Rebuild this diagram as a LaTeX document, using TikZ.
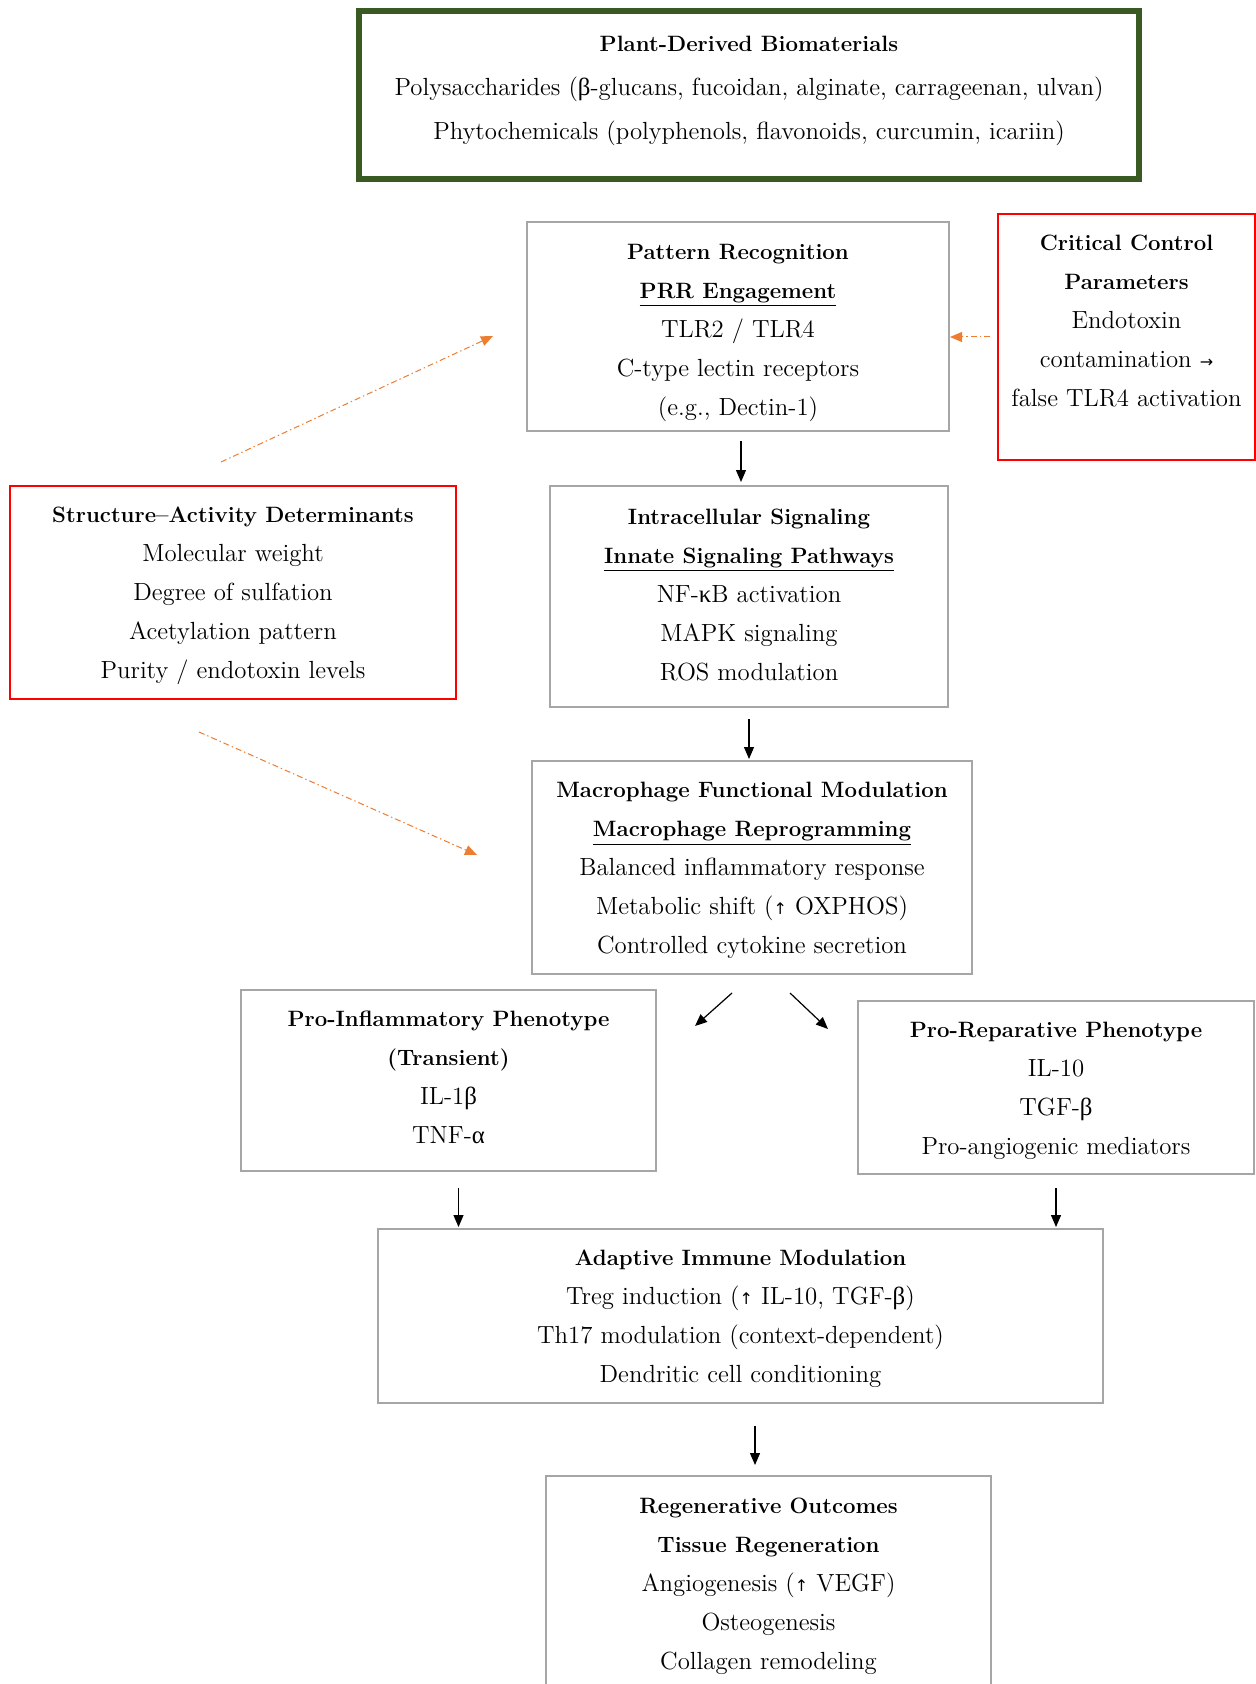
\documentclass[tikz,border=0pt]{standalone}
\usepackage{fontspec}
\newfontfamily\griego{Liberation Serif}
\newfontfamily\simbolo{DejaVu Sans}
\usetikzlibrary{positioning, arrows.meta, calc}
\definecolor{verde}{HTML}{3A5A24}
\definecolor{rojo}{HTML}{FF0000}
\definecolor{gris}{HTML}{A6A6A6}
\definecolor{naranja}{HTML}{ED7D31}
\newcommand{\gbeta}{{\griego β}}
\newcommand{\galfa}{{\griego α}}
\newcommand{\gkappa}{{\griego κ}}
\newcommand{\arriba}{{\simbolo\footnotesize ↑}}
\newcommand{\flechader}{{\simbolo\footnotesize →}}
\newcommand{\titulo}[1]{{\fontsize{11.1pt}{19.5pt}\selectfont\bfseries\rule{0pt}{11pt}#1}}

\begin{document}
\begin{tikzpicture}[x=0.5pt, y=-0.5pt,
				caja/.style={draw=gris, line width=1pt, align=center, inner sep=0pt, font=\fontsize{12.4pt}{19.5pt}\selectfont},
				flecha/.style={-{Triangle[length=6pt, width=5pt]}, line width=0.6pt},
				punteada/.style={naranja, -{Triangle[length=6pt, width=5pt]}, line width=0.5pt, dash pattern=on 3pt off 1.5pt on 0.7pt off 1.5pt}]
				\fill[white] (0,0) rectangle (1256,1684);
				\useasboundingbox (0,0) rectangle (1256,1684);
				\node[caja, draw=verde, line width=3pt, minimum width=390pt, minimum height=84pt] (bio) at (749,95) {\titulo{Plant-Derived Biomaterials}\\[2.5pt] Polysaccharides (\gbeta-glucans, fucoidan, alginate, carrageenan, ulvan)\\[2.5pt] Phytochemicals (polyphenols, flavonoids, curcumin, icariin)\\[-8.7pt] \mbox{}};
				\node[caja, minimum width=211pt, minimum height=104.5pt] (prr) at (738,326.5) {\titulo{Pattern Recognition}\\ \underline{\titulo{PRR Engagement}}\\ TLR2 / TLR4\\ C-type lectin receptors\\ \smash{(e.g., Dectin-1)}};
				\node[caja, draw=rojo, minimum width=128.5pt, minimum height=123pt] (ctrl) at (1126.5,337) {\titulo{Critical Control}\\ \titulo{Parameters}\\ Endotoxin\\ contamination \flechader\\ false TLR4 activation\\ \mbox{}};
				\node[caja, draw=rojo, minimum width=223pt, minimum height=106.5pt] (sad) at (233,592.5) {\titulo{Structure--Activity Determinants}\\ Molecular weight\\ Degree of sulfation\\ Acetylation pattern\\ Purity / endotoxin levels};
				\node[caja, minimum width=199pt, minimum height=110.5pt] (sig) at (749,596.5) {\titulo{Intracellular Signaling}\\ \underline{\titulo{Innate Signaling Pathways}}\\ NF-\gkappa B activation\\ MAPK signaling\\ ROS modulation\\[-14.1pt] \mbox{}};
				\node[caja, minimum width=220pt, minimum height=106.5pt] (mac) at (752,867.5) {\titulo{Macrophage Functional Modulation}\\ \underline{\titulo{Macrophage Reprogramming}}\\ Balanced inflammatory response\\ Metabolic shift (\arriba{} OXPHOS)\\ Controlled cytokine secretion};
				\node[caja, minimum width=207.5pt, minimum height=90.5pt] (m1) at (448.5,1080.5) {\titulo{Pro-Inflammatory Phenotype}\\ \titulo{(Transient)}\\ IL-1\gbeta\\ TNF-\galfa\\[-13.1pt] \mbox{}};
				\node[caja, minimum width=198pt, minimum height=86.5pt] (m2) at (1056,1087.5) {\titulo{Pro-Reparative Phenotype}\\ IL-10\\ TGF-\gbeta\\ Pro-angiogenic mediators};
				\node[caja, minimum width=362.5pt, minimum height=87pt] (adap) at (740.5,1316) {\titulo{Adaptive Immune Modulation}\\ Treg induction (\arriba{} IL-10, TGF-\gbeta)\\ Th17 modulation (context-dependent)\\ Dendritic cell conditioning};
				\node[caja, minimum width=222.5pt, minimum height=107pt] (reg) at (768.5,1583) {\titulo{Regenerative Outcomes}\\ \titulo{Tissue Regeneration}\\ Angiogenesis (\arriba{} VEGF)\\ Osteogenesis\\ Collagen remodeling};
				\coordinate (d1) at (695,1026);
				\coordinate (d2) at (828,1029);
				\draw[flecha, shorten <=4.5pt, shorten >=1.5pt] ([xshift=1.5pt]prr.south) -- ([xshift=1.5pt]prr.south |- sig.north);
				\draw[flecha, shorten <=5.5pt, shorten >=0.5pt] (sig.south) -- (sig.south |- mac.north);
				\draw[flecha] ([shift={(-20,18)}]mac.south) -- (d1);
				\draw[flecha] ([shift={(38,18)}]mac.south) -- (d2);
				\draw[flecha, shorten <=8pt, shorten >=0.5pt] ([xshift=5pt]m1.south) -- ([xshift=5pt]m1.south |- adap.north);
				\draw[flecha, shorten <=6.5pt, shorten >=0.5pt] (m2.south) -- (m2.south |- adap.north);
				\draw[flecha, shorten <=11pt, shorten >=5pt] ([xshift=7.25pt]adap.south) -- ([xshift=7.25pt]adap.south |- reg.north);
				\draw[punteada, shorten <=3.5pt] (ctrl.west) -- (ctrl.west -| prr.east);
				\draw[punteada] ([shift={(-12,-23)}]sad.north) -- ([shift={(-33,9.5)}]prr.west);
				\draw[punteada] ([shift={(-34,32)}]sad.south) -- ([shift={(-54,-12.5)}]mac.west);
			\end{tikzpicture}
\end{document}
